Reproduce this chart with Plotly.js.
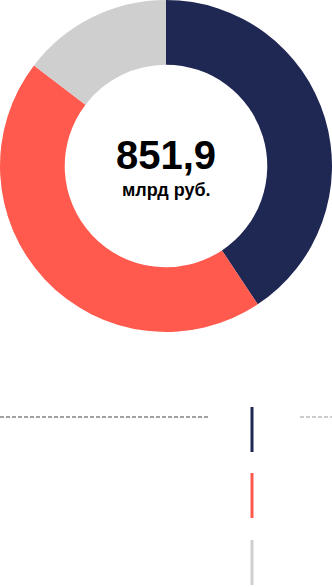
<!DOCTYPE html>
<html>
<head>
<meta charset="utf-8">
<script src="https://cdn.plot.ly/plotly-3.0.1.min.js"></script>
<style>
  html, body { margin: 0; padding: 0; background: #ffffff; }
  #chart { width: 332px; height: 587px; }
</style>
</head>
<body>
<div id="chart"></div>
<script>
// Data (млрд руб.)
const categories = ["Категория 1", "Категория 2", "Категория 3"];
const values = [346.6, 380.6, 124.7];
const colors = ["#1f2753", "#ff5a4d", "#cfcfcf"];
const totalLabel = "851,9";
const unitLabel = "млрд руб.";

const W = 332, H = 587;
const py = p => 1 - p / H;   // pixel y -> paper y
const px = p => p / W;       // pixel x -> paper x

const trace = {
  type: "pie",
  labels: categories,
  values: values,
  marker: { colors: colors, line: { width: 0 } },
  hole: 0.61,
  sort: false,
  direction: "clockwise",
  rotation: 0,
  textinfo: "none",
  hoverinfo: "label+value",
  showlegend: false,
  domain: { x: [0, 1], y: [py(332), 1] }
};

// legend-like vertical bars
const barTops = [407, 473, 540];
const shapes = colors.map((c, i) => ({
  type: "line", xref: "paper", yref: "paper",
  x0: px(252), x1: px(252), y0: py(barTops[i]), y1: py(barTops[i] + 45),
  line: { color: c, width: 3 }
}));
shapes.push({
  type: "line", xref: "paper", yref: "paper",
  x0: 0, x1: px(208), y0: py(417), y1: py(417),
  line: { color: "#444444", width: 1, dash: "4px,2px" }
});
shapes.push({
  type: "line", xref: "paper", yref: "paper",
  x0: px(300), x1: 1, y0: py(417), y1: py(417),
  line: { color: "#999999", width: 1, dash: "4px,2px" }
});

const layout = {
  width: W, height: H,
  margin: { l: 0, r: 0, t: 0, b: 0 },
  paper_bgcolor: "#ffffff",
  plot_bgcolor: "#ffffff",
  showlegend: false,
  shapes: shapes,
  annotations: [
    { text: "<b>" + totalLabel + "</b>", x: 0.5, y: py(155), xref: "paper", yref: "paper",
      showarrow: false, xanchor: "center", yanchor: "middle",
      font: { family: "Liberation Sans, Arial, sans-serif", size: 40, color: "#000000" } },
    { text: "<b>" + unitLabel + "</b>", x: 0.5, y: py(190), xref: "paper", yref: "paper",
      showarrow: false, xanchor: "center", yanchor: "middle",
      font: { family: "Liberation Sans, Arial, sans-serif", size: 18, color: "#000000" } }
  ]
};

Plotly.newPlot("chart", [trace], layout, { displayModeBar: false, staticPlot: true });
</script>
</body>
</html>
